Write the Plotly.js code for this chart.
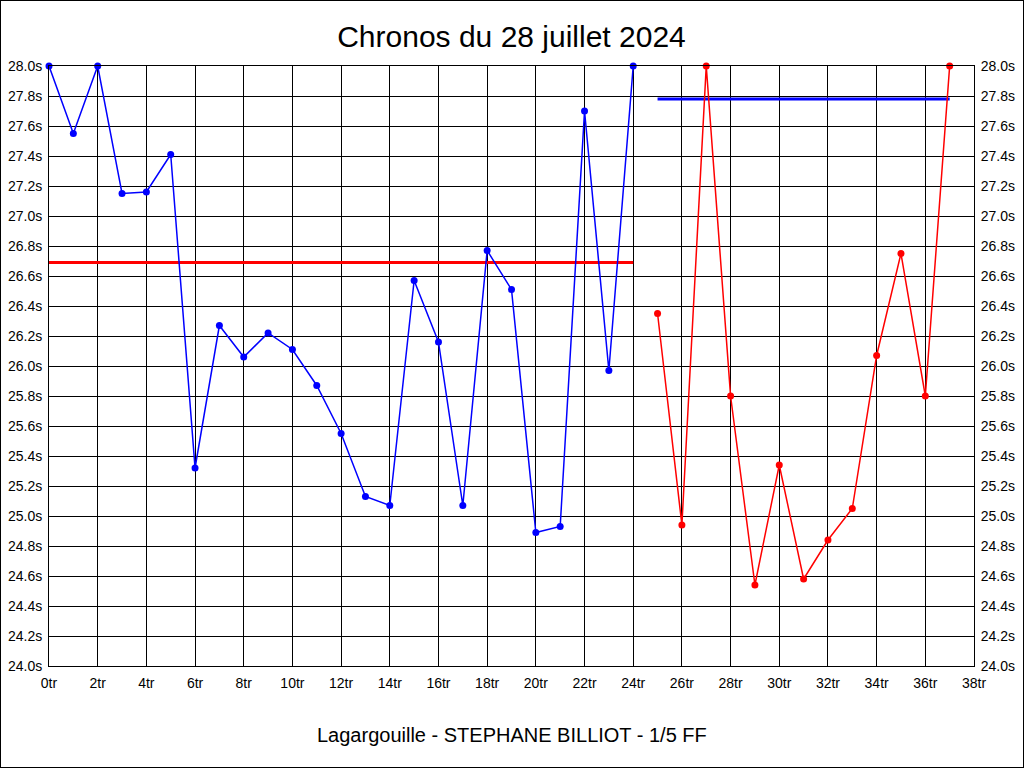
<!DOCTYPE html>
<html>
<head>
<meta charset="utf-8">
<script src="https://cdn.plot.ly/plotly-3.0.1.min.js"></script>
<style>
  html, body { margin: 0; padding: 0; background: #fff; }
  #wrap { position: relative; width: 1024px; height: 768px; }
  #chart { width: 1024px; height: 768px; }
  #frame { position: absolute; left: 0; top: 0; width: 1024px; height: 768px; box-sizing: border-box; border: 1px solid #000; pointer-events: none; }
</style>
</head>
<body>
<div id="wrap"><div id="chart"></div><div id="frame"></div></div>
<script>
// Laps (tours) and lap times (seconds)
const blueLaps = [0,1,2,3,4,5,6,7,8,9,10,11,12,13,14,15,16,17,18,19,20,21,22,23,24];
const blueTimes = [28.00,27.55,28.00,27.15,27.16,27.41,25.32,26.27,26.06,26.22,26.11,25.87,25.55,25.13,25.07,26.57,26.16,25.07,26.77,26.51,24.89,24.93,27.70,25.97,28.00];
const redLaps = [25,26,27,28,29,30,31,32,33,34,35,36,37];
const redTimes = [26.35,24.94,28.00,25.80,24.54,25.34,24.58,24.84,25.05,26.07,26.75,25.80,28.00];
// Reference horizontal lines
const redRefLaps = [0,24];
const redRefTimes = [26.69,26.69];
const blueRefLaps = [25,37];
const blueRefTimes = [27.78,27.78];

const titleText = "Chronos du 28 juillet 2024";
const footerText = "Lagargouille - STEPHANE BILLIOT - 1/5 FF";

const FONT = "Liberation Sans, Arial, sans-serif";

const traces = [
  {x: redRefLaps, y: redRefTimes, mode: "lines", line: {color: "#ff0000", width: 3}, hoverinfo: "skip"},
  {x: blueRefLaps, y: blueRefTimes, mode: "lines", line: {color: "#0000ff", width: 3}, hoverinfo: "skip"},
  {x: blueLaps, y: blueTimes, mode: "lines+markers", cliponaxis: false, line: {color: "#0000ff", width: 1.5}, marker: {color: "#0000ff", size: 7}},
  {x: redLaps, y: redTimes, mode: "lines+markers", cliponaxis: false, line: {color: "#ff0000", width: 1.5}, marker: {color: "#ff0000", size: 7}},
  {x: [0], y: [24], yaxis: "y2", mode: "markers", marker: {opacity: 0}, hoverinfo: "skip"}
];

const yCommon = {
  range: [24, 28], dtick: 0.2, tick0: 24, tickformat: ".1f", ticksuffix: "s",
  showgrid: true, gridcolor: "#000", gridwidth: 1, zeroline: false,
  showline: true, linecolor: "#000", linewidth: 1,
  ticks: "", ticklabelstandoff: 3,
  tickfont: {family: FONT, size: 14, color: "#000"}
};

const layout = {
  width: 1024, height: 768,
  margin: {l: 49, r: 50, t: 66, b: 102, pad: 0},
  paper_bgcolor: "#fff", plot_bgcolor: "#fff",
  showlegend: false,
  title: {text: titleText, font: {family: FONT, size: 30, color: "#000"}, x: 0.5, xanchor: "center", y: 1 - 36/768, yanchor: "middle", xref: "paper"},
  xaxis: {
    range: [0, 38], dtick: 2, tick0: 0, ticksuffix: "tr",
    showgrid: true, gridcolor: "#000", gridwidth: 1, zeroline: false,
    showline: true, linecolor: "#000", linewidth: 1, mirror: true,
    ticks: "", ticklabelstandoff: 4,
    tickfont: {family: FONT, size: 14, color: "#000"}
  },
  yaxis: Object.assign({}, yCommon, {side: "left", mirror: true}),
  yaxis2: Object.assign({}, yCommon, {side: "right", overlaying: "y", showgrid: false}),
  annotations: [{
    text: footerText, xref: "paper", yref: "paper", x: 0.5, y: -69/600,
    xanchor: "center", yanchor: "middle", showarrow: false,
    font: {family: FONT, size: 20, color: "#000"}
  }]
};

Plotly.newPlot("chart", traces, layout, {displayModeBar: false, staticPlot: true});
</script>
</body>
</html>
